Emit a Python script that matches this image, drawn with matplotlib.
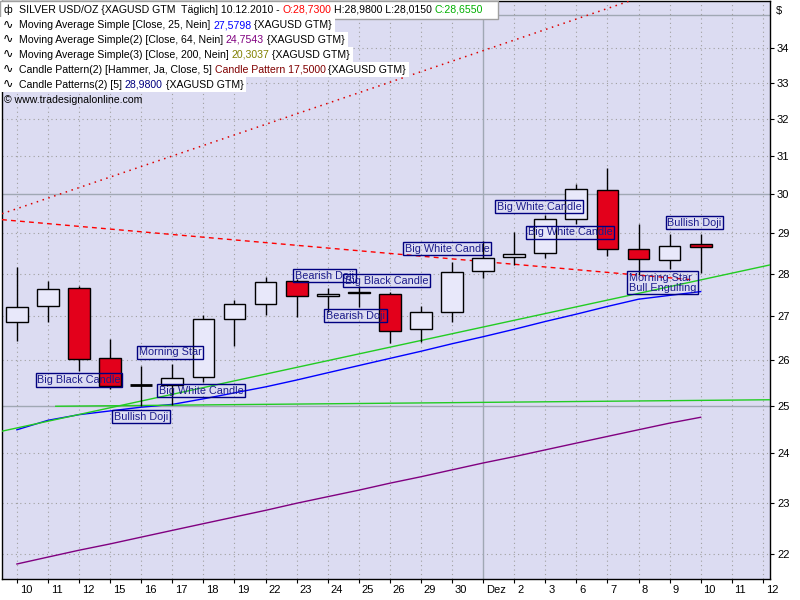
import numpy as np
import matplotlib
matplotlib.use("Agg")
import matplotlib.pyplot as plt
from matplotlib.patches import Rectangle
from matplotlib.ticker import FixedLocator, FixedFormatter, NullLocator
import matplotlib.transforms as mtransforms

plt.rcParams['font.family'] = ['Liberation Sans', 'DejaVu Sans']

# trading days (Nov 10 .. Dec 12, 2010)
days = ['10', '11', '12', '15', '16', '17', '18', '19', '22', '23', '24', '25', '26',
        '29', '30', 'Dez', '2', '3', '6', '7', '8', '9', '10', '11', '12']

opens = [26.87, 27.24, 27.66, 26.04, 25.44, 25.46, 25.62, 26.93, 27.28, 27.84, 27.47, 27.56,
         27.52, 26.70, 27.10, 28.07, 28.41, 28.50, 29.35, 30.10, 28.61, 28.34, 28.73]
highs = [28.18, 27.84, 27.72, 26.48, 25.86, 25.92, 27.04, 27.39, 27.92, 27.88, 27.66, 27.72,
         27.57, 27.25, 28.30, 28.81, 29.02, 29.46, 30.26, 30.68, 29.24, 28.99, 28.98]
lows = [26.44, 26.86, 25.75, 25.37, 24.99, 25.02, 25.51, 26.32, 27.04, 26.99, 27.10, 27.21,
        26.38, 26.42, 26.87, 27.90, 28.22, 28.40, 29.23, 28.43, 27.98, 28.12, 28.015]
closes = [27.21, 27.64, 26.02, 25.43, 25.44, 25.60, 26.93, 27.28, 27.81, 27.47, 27.52, 27.54,
          26.66, 27.10, 28.05, 28.40, 28.48, 29.35, 30.12, 28.62, 28.36, 28.68, 28.655]

ma25 = [24.49, 24.69, 24.81, 24.89, 24.97, 25.03, 25.15, 25.28, 25.41, 25.56, 25.72, 25.88,
        26.04, 26.20, 26.37, 26.53, 26.70, 26.88, 27.05, 27.23, 27.40, 27.49, 27.5798]
ma64 = [21.82, 21.95, 22.08, 22.20, 22.33, 22.46, 22.59, 22.72, 22.85, 22.99, 23.12, 23.25,
        23.39, 23.52, 23.66, 23.80, 23.93, 24.07, 24.21, 24.35, 24.49, 24.63, 24.7543]

# drawn trend lines: (day index list, price list)
green_trend = ([-0.48, 24.23], [24.46, 28.22])
green_flat = ([1.25, 24.23], [24.99, 25.13])
red_dashed = ([-0.48, 21.75], [29.34, 27.86])
red_dotted = ([-0.48, 24.23], [29.49, 36.89])

# candle pattern markers
patterns = ['Big Black Candle', 'Bullish Doji', 'Morning Star', 'Big White Candle',
            'Bearish Doji', 'Bearish Doji', 'Big Black Candle', 'Big White Candle',
            'Big White Candle', 'Big White Candle', 'Bullish Doji',
            'Morning Star\nBull Engulfing']
pattern_x = [0.60, 3.07, 3.87, 4.51, 8.89, 9.89, 10.50, 12.43, 15.39, 16.38, 20.87, 19.63]
pattern_y = [25.71, 24.91, 26.33, 25.47, 28.12, 27.17, 28.00, 28.78, 29.84, 29.19, 29.43, 28.07]

price_ticks = list(range(22, 35))

W, H = 800, 600
FS = 7.6
fig = plt.figure(figsize=(8, 6), dpi=100)
fig.patch.set_facecolor('white')
ax = fig.add_axes([2 / W, 1 - 579 / H, 768 / W, 578 / H])
ax.set_facecolor('#DCDCF2')
ax.set_yscale('log')
ax.set_xlim(-0.48, 24.23)
ax.set_ylim(21.54, 35.41)

# grid
for v in range(22, 36):
    if v % 5 == 0:
        ax.axhline(v, color='#A0A8B4', lw=1, zorder=1)
    else:
        ax.axhline(v, color='#A0A0A0', lw=0.8, ls=(0, (1, 3)), zorder=1)
for i, d in enumerate(days):
    if d == 'Dez':
        ax.axvline(i, color='#A0A8B4', lw=1, zorder=1)
    else:
        ax.axvline(i, color='#A0A0A0', lw=0.8, ls=(0, (1, 3)), zorder=1)

# indicators and trend lines
x = np.arange(len(opens))
ax.plot(x, ma25, color='#0000FF', lw=1, zorder=3)
ax.plot(x, ma64, color='#800080', lw=1, zorder=3)
ax.plot(*green_trend, color='#22CC22', lw=1, zorder=3)
ax.plot(*green_flat, color='#22CC22', lw=1, zorder=3)
ax.plot(*red_dashed, color='#FF0000', lw=1, ls=(0, (3.5, 3)), zorder=3)
ax.plot(*red_dotted, color='#DD0000', lw=1.1, ls=(0, (1, 3)), zorder=3)

# candles
for i in x:
    o, h, l, c = opens[i], highs[i], lows[i], closes[i]
    ax.vlines(i, l, h, color='black', lw=1, zorder=4)
    if o == c:
        ax.hlines(o, i - 0.35, i + 0.35, color='black', lw=2, zorder=5)
        continue
    fc = '#E8E8FA' if c > o else '#E3001B'
    ax.add_patch(Rectangle((i - 0.35, min(o, c)), 0.7, abs(c - o), facecolor=fc,
                           edgecolor='black', lw=1, zorder=5))

# pattern labels
for name, px, py in zip(patterns, pattern_x, pattern_y):
    ax.annotate(name, xy=(px, py), xytext=(1.2, -1.2), textcoords='offset points',
                ha='left', va='top', fontsize=7.8, color='#1C1C8C', linespacing=1.0,
                bbox=dict(boxstyle='square,pad=0.15', fc='none', ec='#000080', lw=1),
                zorder=7, annotation_clip=False)

# axes
for s in ax.spines.values():
    s.set_color('black')
    s.set_linewidth(1)
ax.yaxis.tick_right()
ax.yaxis.set_major_locator(FixedLocator(price_ticks))
ax.yaxis.set_major_formatter(FixedFormatter([str(v) for v in price_ticks]))
ax.yaxis.set_minor_locator(NullLocator())
ax.tick_params(axis='y', length=3, pad=2, labelsize=8, direction='out')
ax.set_xticks(x.tolist() + [23, 24])
ax.set_xticklabels(days)
ax.tick_params(axis='x', length=3, pad=1, labelsize=8, direction='out')
shift = mtransforms.ScaledTranslation(2 / 72, 0, fig.dpi_scale_trans)
for lbl in ax.get_xticklabels():
    lbl.set_horizontalalignment('left')
    lbl.set_transform(lbl.get_transform() + shift)

fig.text(776 / W, 1 - 11 / H, '$', fontsize=8, va='center', ha='left')

# legend block at the top left
renderer = fig.canvas.get_renderer()
t1 = fig.text(0, 0, 'a a', fontsize=FS)
t2 = fig.text(0, 0, 'aa', fontsize=FS)
space_w = t1.get_window_extent(renderer).width - t2.get_window_extent(renderer).width
t1.remove()
t2.remove()


def draw_row(y_px, parts, x_px=19):
    xx = x_px
    for s, col in parts:
        t = fig.text(xx / W, 1 - y_px / H, s, color=col, fontsize=FS, va='center',
                     ha='left', zorder=5)
        xx += t.get_window_extent(renderer).width + space_w
    return xx - space_w


fig.add_artist(Rectangle((0, 1 - 19 / H), 498 / W, 18 / H, transform=fig.transFigure,
                         facecolor='white', edgecolor='#A0A0A0', lw=1, zorder=2))
fig.text(4 / W, 1 - 10 / H, 'ф', fontsize=FS, va='center', ha='left', zorder=5)
draw_row(10, [('SILVER USD/OZ {XAGUSD GTM  Täglich] 10.12.2010 -', 'black'),
              ('O:28,7300', '#FF0000'), ('H:28,9800 L:28,0150', 'black'),
              ('C:28,6550', '#00B000')])

rows = [
    ('Moving Average Simple [Close, 25, Nein]', '27,5798', '#0000FF'),
    ('Moving Average Simple(2) [Close, 64, Nein]', '24,7543', '#800080'),
    ('Moving Average Simple(3) [Close, 200, Nein]', '20,3037', '#808000'),
    ('Candle Pattern(2) [Hammer, Ja, Close, 5]', 'Candle Pattern 17,5000', '#800000'),
    ('Candle Patterns(2) [5]', '28,9800', '#000080'),
]
for k, (name, val, col) in enumerate(rows):
    yc = 25 + 14.9 * k
    end = draw_row(yc, [(name, 'black'), (val, col), ('{XAGUSD GTM}', 'black')])
    fig.add_artist(Rectangle((0, 1 - (yc + 7.5) / H), (end + 3) / W, 15 / H,
                             transform=fig.transFigure, facecolor='white',
                             edgecolor='none', zorder=2))
    fig.text(3 / W, 1 - yc / H, '∿', fontsize=9, va='center', ha='left',
             family=['DejaVu Sans'], zorder=5)

fig.text(4 / W, 1 - 100 / H, '© www.tradesignalonline.com', fontsize=FS, va='center',
         ha='left', zorder=5)

fig.savefig('out.png', dpi=100)
